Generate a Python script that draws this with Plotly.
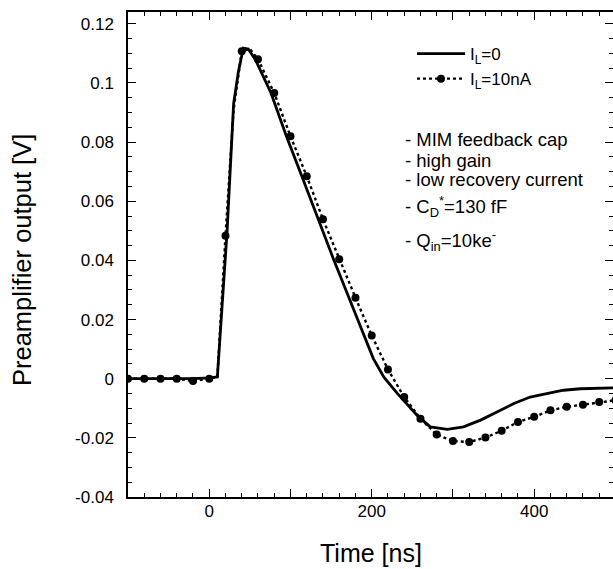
import plotly.graph_objects as go

# ---- data ----
solid_t = [-100, -80, -60, -40, -20, 0, 10, 22, 30, 36, 42, 48, 57, 76, 95, 114, 134, 153,
           172, 191, 202, 215, 231, 256, 272, 293, 313, 334, 354, 375, 395, 416, 436, 457, 478, 500]
solid_v = [0.0, 0.0, 0.0002, 0.0, 0.0, 0.0003, 0.0006, 0.050, 0.093, 0.104, 0.1118, 0.1115,
           0.1078, 0.0966, 0.0820, 0.0685, 0.0539, 0.0404, 0.0274, 0.0142, 0.0068, 0.0005,
           -0.0048, -0.0124, -0.0163, -0.0171, -0.0163, -0.0140, -0.0112, -0.0084, -0.0062,
           -0.0051, -0.0039, -0.0034, -0.0032, -0.0031]

dot_t = [-100, -80, -60, -40, -20, 0, 10, 20, 30, 40, 50, 60, 80, 100, 120, 140, 160, 180,
         200, 220, 240, 260, 280, 300, 320, 340, 360, 380, 400, 420, 440, 460, 480, 500]
dot_v = [0.0, 0.0, 0.0, 0.0, -0.0008, 0.0, 0.0005, 0.0483, 0.091, 0.1107, 0.1115, 0.1080,
         0.0966, 0.0820, 0.0685, 0.0539, 0.0404, 0.0274, 0.0146, 0.0031, -0.0062, -0.0135,
         -0.0189, -0.0211, -0.0214, -0.0199, -0.0176, -0.0146, -0.0129, -0.0107, -0.0095,
         -0.0088, -0.0079, -0.0073]

series_names = ["I<sub>L</sub>=0", "I<sub>L</sub>=10nA"]

x_tickvals = [0, 200, 400]
x_ticktext = ["0", "200", "400"]
y_tickvals = [-0.04, -0.02, 0, 0.02, 0.04, 0.06, 0.08, 0.1, 0.12]
y_ticktext = ["-0.04", "-0.02", "0", "0.02", "0.04", "0.06", "0.08", "0.1", "0.12"]

notes = ["- MIM feedback cap", "- high gain", "- low recovery current",
         "- C<sub>D</sub><sup>*</sup>=130 fF", "- Q<sub>in</sub>=10ke<sup>-</sup>"]

# ---- figure ----
FONT = "Liberation Sans, Arial, Helvetica, sans-serif"
W, H = 613, 569
L, R, T, B = 128, 0, 12, 72
PW, PH = W - L - R, H - T - B

def px(xp):
    return (xp - L) / PW

def py(yp):
    return (H - B - yp) / PH

fig = go.Figure()

fig.add_trace(go.Scatter(x=solid_t, y=solid_v, mode="lines", name=series_names[0],
                         line=dict(color="black", width=2.8), legendgroup="a"))

# dotted line through dense data (no legend)
fig.add_trace(go.Scatter(x=dot_t, y=dot_v, mode="lines", showlegend=False,
                         line=dict(color="black", width=2.4, dash="dot")))
# markers every 20 ns
mk_t = [t for t in dot_t if t % 20 == 0]
mk_v = [v for t, v in zip(dot_t, dot_v) if t % 20 == 0]
fig.add_trace(go.Scatter(x=mk_t, y=mk_v, mode="markers", showlegend=False,
                         marker=dict(color="black", size=8, symbol="circle")))
# legend entry for the dotted series
fig.add_trace(go.Scatter(x=[None], y=[None], mode="lines+markers", name=series_names[1],
                         line=dict(color="black", width=2.4, dash="dot"),
                         marker=dict(color="black", size=8), legendgroup="b"))
# carrier for the secondary x axis (major ticks every 100 ns, no labels)
fig.add_trace(go.Scatter(x=[None], y=[None], xaxis="x2", showlegend=False, hoverinfo="skip"))

axis_common = dict(showline=True, linecolor="black", linewidth=1.5, mirror="ticks",
                   ticks="inside", ticklen=8, tickwidth=1.3, tickcolor="black",
                   showgrid=False, zeroline=False,
                   tickfont=dict(family=FONT, size=17, color="black"))

fig.update_layout(
    xaxis=dict(range=[-100, 497], tickmode="array", tickvals=x_tickvals, ticktext=x_ticktext,
               minor=dict(dtick=20, tick0=-100, ticks="inside", ticklen=4, tickwidth=1.1,
                          tickcolor="black", showgrid=False),
               ticklabelstandoff=-2, **axis_common),
    xaxis2=dict(range=[-100, 497], overlaying="x", matches="x", side="bottom",
                tickmode="linear", tick0=-100, dtick=100, showticklabels=False,
                showline=True, linecolor="black", linewidth=1.5, mirror="ticks",
                ticks="inside", ticklen=8, tickwidth=1.3, tickcolor="black",
                showgrid=False, zeroline=False),
    yaxis=dict(range=[-0.04, 0.124], tickmode="array", tickvals=y_tickvals, ticktext=y_ticktext,
               minor=dict(dtick=0.005, tick0=0, ticks="inside", ticklen=4, tickwidth=1.1,
                          tickcolor="black", showgrid=False),
               ticklabelstandoff=9, **axis_common),
)

annotations = []
note_y = [140, 160, 179, 206, 240]
for txt, yp in zip(notes, note_y):
    annotations.append(dict(text=txt, xref="paper", yref="paper", x=px(403), y=py(yp),
                            xanchor="left", yanchor="middle", showarrow=False,
                            font=dict(family=FONT, size=18.5, color="black")))
annotations.append(dict(text="Preamplifier output [V]", xref="paper", yref="paper",
                        x=px(22), y=py(260), textangle=-90, xanchor="center", yanchor="middle",
                        showarrow=False, font=dict(family=FONT, size=25.5, color="black")))
annotations.append(dict(text="Time [ns]", xref="paper", yref="paper",
                        x=px(371), y=py(553), xanchor="center", yanchor="middle",
                        showarrow=False, font=dict(family=FONT, size=25, color="black")))

fig.update_layout(
    width=W, height=H,
    margin=dict(l=L, r=R, t=T, b=B, autoexpand=False),
    paper_bgcolor="white", plot_bgcolor="white",
    showlegend=True,
    legend=dict(x=px(412), y=py(36), xanchor="left", yanchor="top",
                bgcolor="rgba(0,0,0,0)", borderwidth=0,
                font=dict(family=FONT, size=17, color="black"),
                traceorder="grouped", tracegroupgap=0, itemwidth=48),
    annotations=annotations,
    font=dict(family=FONT, color="black"),
)

fig.write_html("out.html")
